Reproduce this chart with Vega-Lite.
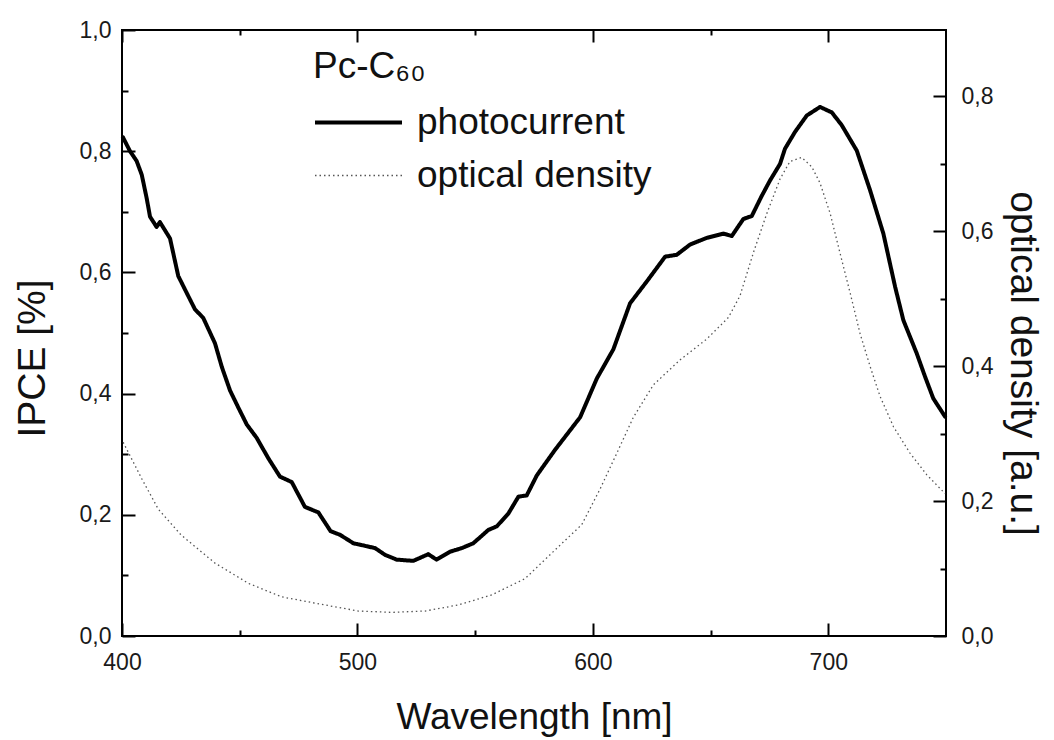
{
  "$schema": "https://vega.github.io/schema/vega-lite/v6.json",
  "width": 824,
  "height": 606,
  "autosize": "none",
  "padding": {"left": 122, "top": 30, "right": 108, "bottom": 104},
  "background": "white",
  "config": {
    "font": "Liberation Sans",
    "view": {"stroke": "black", "strokeWidth": 2},
    "axis": {"domain": false, "grid": false, "tickColor": "black", "tickWidth": 2, "labelColor": "#1a1a1a", "labelFont": "Liberation Sans", "labelFontSize": 23, "labelFlush": false, "titleFont": "Liberation Sans", "titleFontSize": 37, "titleFontWeight": "normal", "titleColor": "#111111"},
    "legend": {"orient": "none", "legendX": 191, "legendY": 19, "titleFont": "Liberation Sans", "titleFontSize": 37, "titleFontWeight": "normal", "titleColor": "#111111", "labelFont": "Liberation Sans", "labelFontSize": 37, "labelColor": "#111111", "symbolType": "stroke", "symbolSize": 7569, "labelOffset": 13, "clipHeight": 37, "rowPadding": 15, "titlePadding": 18, "padding": 0, "labelLimit": 0, "titleLimit": 0}
  },
  "data": {"values": [
    {"series": "photocurrent", "wavelength": 400.4, "value": 0.823},
    {"series": "photocurrent", "wavelength": 403.4, "value": 0.800},
    {"series": "photocurrent", "wavelength": 406.2, "value": 0.784},
    {"series": "photocurrent", "wavelength": 408.4, "value": 0.761},
    {"series": "photocurrent", "wavelength": 410.5, "value": 0.722},
    {"series": "photocurrent", "wavelength": 411.9, "value": 0.692},
    {"series": "photocurrent", "wavelength": 414.7, "value": 0.675},
    {"series": "photocurrent", "wavelength": 416.1, "value": 0.683},
    {"series": "photocurrent", "wavelength": 420.4, "value": 0.656},
    {"series": "photocurrent", "wavelength": 423.9, "value": 0.594},
    {"series": "photocurrent", "wavelength": 427.5, "value": 0.566},
    {"series": "photocurrent", "wavelength": 431.0, "value": 0.539},
    {"series": "photocurrent", "wavelength": 434.5, "value": 0.525},
    {"series": "photocurrent", "wavelength": 439.5, "value": 0.483},
    {"series": "photocurrent", "wavelength": 442.4, "value": 0.444},
    {"series": "photocurrent", "wavelength": 445.9, "value": 0.405},
    {"series": "photocurrent", "wavelength": 449.4, "value": 0.377},
    {"series": "photocurrent", "wavelength": 453.0, "value": 0.349},
    {"series": "photocurrent", "wavelength": 457.2, "value": 0.327},
    {"series": "photocurrent", "wavelength": 462.2, "value": 0.293},
    {"series": "photocurrent", "wavelength": 467.1, "value": 0.263},
    {"series": "photocurrent", "wavelength": 472.1, "value": 0.254},
    {"series": "photocurrent", "wavelength": 477.7, "value": 0.213},
    {"series": "photocurrent", "wavelength": 483.4, "value": 0.204},
    {"series": "photocurrent", "wavelength": 488.6, "value": 0.173},
    {"series": "photocurrent", "wavelength": 492.6, "value": 0.167},
    {"series": "photocurrent", "wavelength": 498.3, "value": 0.153},
    {"series": "photocurrent", "wavelength": 501.8, "value": 0.150},
    {"series": "photocurrent", "wavelength": 507.5, "value": 0.145},
    {"series": "photocurrent", "wavelength": 511.7, "value": 0.134},
    {"series": "photocurrent", "wavelength": 516.7, "value": 0.126},
    {"series": "photocurrent", "wavelength": 523.7, "value": 0.124},
    {"series": "photocurrent", "wavelength": 530.1, "value": 0.135},
    {"series": "photocurrent", "wavelength": 533.6, "value": 0.126},
    {"series": "photocurrent", "wavelength": 539.3, "value": 0.139},
    {"series": "photocurrent", "wavelength": 544.3, "value": 0.145},
    {"series": "photocurrent", "wavelength": 549.2, "value": 0.153},
    {"series": "photocurrent", "wavelength": 555.6, "value": 0.175},
    {"series": "photocurrent", "wavelength": 559.2, "value": 0.181},
    {"series": "photocurrent", "wavelength": 564.1, "value": 0.202},
    {"series": "photocurrent", "wavelength": 568.4, "value": 0.230},
    {"series": "photocurrent", "wavelength": 571.9, "value": 0.232},
    {"series": "photocurrent", "wavelength": 576.2, "value": 0.265},
    {"series": "photocurrent", "wavelength": 583.9, "value": 0.307},
    {"series": "photocurrent", "wavelength": 594.6, "value": 0.361},
    {"series": "photocurrent", "wavelength": 601.7, "value": 0.425},
    {"series": "photocurrent", "wavelength": 608.7, "value": 0.473},
    {"series": "photocurrent", "wavelength": 615.8, "value": 0.549},
    {"series": "photocurrent", "wavelength": 622.9, "value": 0.585},
    {"series": "photocurrent", "wavelength": 630.7, "value": 0.626},
    {"series": "photocurrent", "wavelength": 635.6, "value": 0.629},
    {"series": "photocurrent", "wavelength": 641.3, "value": 0.646},
    {"series": "photocurrent", "wavelength": 648.4, "value": 0.657},
    {"series": "photocurrent", "wavelength": 655.4, "value": 0.664},
    {"series": "photocurrent", "wavelength": 659.0, "value": 0.660},
    {"series": "photocurrent", "wavelength": 663.9, "value": 0.688},
    {"series": "photocurrent", "wavelength": 667.5, "value": 0.693},
    {"series": "photocurrent", "wavelength": 671.7, "value": 0.726},
    {"series": "photocurrent", "wavelength": 675.3, "value": 0.752},
    {"series": "photocurrent", "wavelength": 679.5, "value": 0.779},
    {"series": "photocurrent", "wavelength": 681.6, "value": 0.804},
    {"series": "photocurrent", "wavelength": 685.9, "value": 0.832},
    {"series": "photocurrent", "wavelength": 690.9, "value": 0.859},
    {"series": "photocurrent", "wavelength": 696.5, "value": 0.873},
    {"series": "photocurrent", "wavelength": 701.5, "value": 0.864},
    {"series": "photocurrent", "wavelength": 705.7, "value": 0.843},
    {"series": "photocurrent", "wavelength": 712.1, "value": 0.801},
    {"series": "photocurrent", "wavelength": 717.8, "value": 0.735},
    {"series": "photocurrent", "wavelength": 723.4, "value": 0.664},
    {"series": "photocurrent", "wavelength": 728.4, "value": 0.576},
    {"series": "photocurrent", "wavelength": 731.9, "value": 0.521},
    {"series": "photocurrent", "wavelength": 737.6, "value": 0.466},
    {"series": "photocurrent", "wavelength": 741.1, "value": 0.428},
    {"series": "photocurrent", "wavelength": 744.6, "value": 0.392},
    {"series": "photocurrent", "wavelength": 749.6, "value": 0.362},
    {"series": "optical density", "wavelength": 400.5, "value": 0.287},
    {"series": "optical density", "wavelength": 408.4, "value": 0.233},
    {"series": "optical density", "wavelength": 415.4, "value": 0.188},
    {"series": "optical density", "wavelength": 425.0, "value": 0.150},
    {"series": "optical density", "wavelength": 439.5, "value": 0.108},
    {"series": "optical density", "wavelength": 453.7, "value": 0.078},
    {"series": "optical density", "wavelength": 467.8, "value": 0.058},
    {"series": "optical density", "wavelength": 486.2, "value": 0.046},
    {"series": "optical density", "wavelength": 500.4, "value": 0.037},
    {"series": "optical density", "wavelength": 514.6, "value": 0.035},
    {"series": "optical density", "wavelength": 528.7, "value": 0.037},
    {"series": "optical density", "wavelength": 542.9, "value": 0.046},
    {"series": "optical density", "wavelength": 557.1, "value": 0.061},
    {"series": "optical density", "wavelength": 571.2, "value": 0.085},
    {"series": "optical density", "wavelength": 585.3, "value": 0.132},
    {"series": "optical density", "wavelength": 595.3, "value": 0.165},
    {"series": "optical density", "wavelength": 603.1, "value": 0.218},
    {"series": "optical density", "wavelength": 610.2, "value": 0.271},
    {"series": "optical density", "wavelength": 617.2, "value": 0.324},
    {"series": "optical density", "wavelength": 625.7, "value": 0.372},
    {"series": "optical density", "wavelength": 637.0, "value": 0.409},
    {"series": "optical density", "wavelength": 648.4, "value": 0.440},
    {"series": "optical density", "wavelength": 657.6, "value": 0.472},
    {"series": "optical density", "wavelength": 662.5, "value": 0.504},
    {"series": "optical density", "wavelength": 668.2, "value": 0.568},
    {"series": "optical density", "wavelength": 673.9, "value": 0.626},
    {"series": "optical density", "wavelength": 679.5, "value": 0.677},
    {"series": "optical density", "wavelength": 683.7, "value": 0.703},
    {"series": "optical density", "wavelength": 688.7, "value": 0.709},
    {"series": "optical density", "wavelength": 693.0, "value": 0.695},
    {"series": "optical density", "wavelength": 696.5, "value": 0.671},
    {"series": "optical density", "wavelength": 700.8, "value": 0.626},
    {"series": "optical density", "wavelength": 705.0, "value": 0.567},
    {"series": "optical density", "wavelength": 709.3, "value": 0.508},
    {"series": "optical density", "wavelength": 713.5, "value": 0.448},
    {"series": "optical density", "wavelength": 717.8, "value": 0.399},
    {"series": "optical density", "wavelength": 722.0, "value": 0.355},
    {"series": "optical density", "wavelength": 727.7, "value": 0.310},
    {"series": "optical density", "wavelength": 734.7, "value": 0.271},
    {"series": "optical density", "wavelength": 741.8, "value": 0.239},
    {"series": "optical density", "wavelength": 749.6, "value": 0.211}
  ]},
  "layer": [
    {
      "transform": [{"filter": "datum.series === 'photocurrent'"}],
      "mark": {"type": "line", "strokeJoin": "round", "strokeCap": "round"},
      "encoding": {
        "x": {"field": "wavelength", "type": "quantitative", "scale": {"domain": [400, 750], "nice": false, "zero": false},
          "axis": {"orient": "bottom", "values": [400, 500, 600, 700], "tickSize": -13, "labelPadding": 28, "title": "Wavelength [nm]", "titlePadding": 25}},
        "y": {"field": "value", "type": "quantitative", "scale": {"domain": [0, 1], "nice": false, "zero": false},
          "axis": {"orient": "left", "values": [0, 0.2, 0.4, 0.6, 0.8, 1.0], "tickSize": -13, "labelPadding": 24, "labelExpr": "replace(format(datum.value, '.1f'), '.', ',')", "title": "IPCE [%]", "titleFontSize": 39, "titlePadding": 27, "titleY": 328}},
        "color": {"field": "series", "type": "nominal", "title": "Pc-C₆₀", "scale": {"domain": ["photocurrent", "optical density"], "range": ["#000000", "#555555"]}},
        "strokeDash": {"field": "series", "type": "nominal", "title": "Pc-C₆₀", "scale": {"domain": ["photocurrent", "optical density"], "range": [[1, 0], [1.5, 3]]}},
        "strokeWidth": {"field": "series", "type": "nominal", "title": "Pc-C₆₀", "scale": {"type": "ordinal", "domain": ["photocurrent", "optical density"], "range": [4, 1.3]}}
      }
    },
    {
      "transform": [{"filter": "datum.series === 'optical density'"}],
      "mark": {"type": "line"},
      "encoding": {
        "x": {"field": "wavelength", "type": "quantitative", "scale": {"domain": [400, 750], "nice": false, "zero": false}, "axis": null},
        "y": {"field": "value", "type": "quantitative", "scale": {"domain": [0, 0.8978], "nice": false, "zero": false},
          "axis": {"orient": "right", "values": [0, 0.2, 0.4, 0.6, 0.8], "tickSize": -13, "labelPadding": 28, "labelExpr": "replace(format(datum.value, '.1f'), '.', ',')", "title": "optical density [a.u.]", "titleFontSize": 39, "titlePadding": 10, "titleY": 333}},
        "color": {"field": "series", "type": "nominal", "title": "Pc-C₆₀", "scale": {"domain": ["photocurrent", "optical density"], "range": ["#000000", "#555555"]}},
        "strokeDash": {"field": "series", "type": "nominal", "title": "Pc-C₆₀", "scale": {"domain": ["photocurrent", "optical density"], "range": [[1, 0], [1.5, 3]]}},
        "strokeWidth": {"field": "series", "type": "nominal", "title": "Pc-C₆₀", "scale": {"type": "ordinal", "domain": ["photocurrent", "optical density"], "range": [4, 1.3]}}
      }
    },
    {
      "transform": [{"filter": "datum.series === 'photocurrent'"}],
      "mark": {"type": "line", "opacity": 0},
      "encoding": {
        "x": {"field": "wavelength", "type": "quantitative", "scale": {"domain": [400, 750], "nice": false, "zero": false},
          "axis": {"orient": "bottom", "values": [450, 550, 650], "tickSize": -6, "labels": false, "title": null}},
        "y": {"field": "value", "type": "quantitative", "scale": {"domain": [0, 1], "nice": false, "zero": false},
          "axis": {"orient": "left", "values": [0.1, 0.3, 0.5, 0.7, 0.9], "tickSize": -6, "labels": false, "title": null}}
      }
    },
    {
      "transform": [{"filter": "datum.series === 'optical density'"}],
      "mark": {"type": "line", "opacity": 0},
      "encoding": {
        "x": {"field": "wavelength", "type": "quantitative", "scale": {"domain": [400, 750], "nice": false, "zero": false},
          "axis": {"orient": "top", "values": [400, 500, 600, 700], "tickSize": -12, "labels": false, "title": null}},
        "y": {"field": "value", "type": "quantitative", "scale": {"domain": [0, 0.8978], "nice": false, "zero": false},
          "axis": {"orient": "right", "values": [0.1, 0.3, 0.5, 0.7], "tickSize": -6, "labels": false, "title": null}}
      }
    },
    {
      "transform": [{"filter": "datum.series === 'photocurrent'"}],
      "mark": {"type": "line", "opacity": 0},
      "encoding": {
        "x": {"field": "wavelength", "type": "quantitative", "scale": {"domain": [400, 750], "nice": false, "zero": false},
          "axis": {"orient": "top", "values": [450, 550, 650], "tickSize": -5, "labels": false, "title": null}},
        "y": {"field": "value", "type": "quantitative", "scale": {"domain": [0, 1], "nice": false, "zero": false}, "axis": null}
      }
    }
  ],
  "resolve": {"scale": {"x": "independent", "y": "independent"}}
}
